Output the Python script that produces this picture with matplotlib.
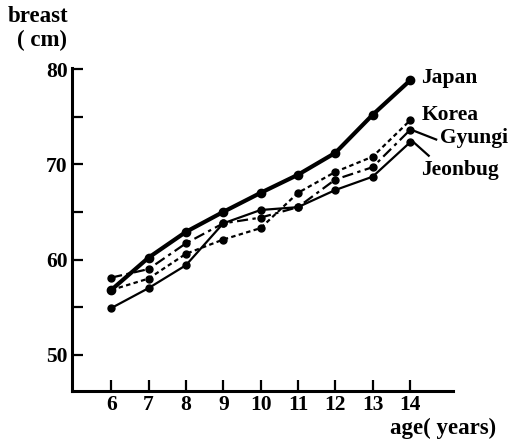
import numpy as np
import matplotlib
matplotlib.use("Agg")
import matplotlib.pyplot as plt

plt.rcParams['font.family'] = ['Liberation Serif', 'DejaVu Serif']

# ages and breast girth (cm)
ages = [6, 7, 8, 9, 10, 11, 12, 13, 14]
japan = [56.8, 60.2, 62.9, 65.0, 67.0, 68.9, 71.2, 75.2, 78.8]
korea = [56.8, 58.0, 60.6, 62.1, 63.3, 67.0, 69.2, 70.8, 74.6]
gyungi = [58.1, 59.0, 61.7, 63.8, 64.4, 65.5, 68.4, 69.7, 73.6]
jeonbug = [54.9, 57.0, 59.4, 63.8, 65.2, 65.5, 67.3, 68.7, 72.3]

fig = plt.figure(figsize=(5.08, 4.42), dpi=100)
ax = fig.add_axes([0.1417, 0.1154, 0.75, 0.7306])

ax.plot(ages, japan, 'k-', lw=3.0, marker='o', ms=6)
ax.plot(ages, korea, 'k', ls=(0, (2, 1.5)), lw=1.6, marker='o', ms=5)
ax.plot(ages, gyungi, 'k', ls=(0, (5, 2, 1.5, 2)), lw=1.6, marker='o', ms=5)
ax.plot(ages, jeonbug, 'k-', lw=1.6, marker='o', ms=5)

ax.set_xlim(4.95, 15.15)
ax.set_ylim(46.2, 80.1)

for s in ['top', 'right']:
    ax.spines[s].set_visible(False)
for s in ['left', 'bottom']:
    ax.spines[s].set_linewidth(2.2)

ax.set_xticks(ages)
ax.set_yticks([50, 60, 70, 80])
ax.set_yticks([55, 65, 75], minor=True)
ax.tick_params(axis='both', direction='in', length=8, width=1.6,
               labelsize=15.5, pad=3)
ax.tick_params(axis='y', which='minor', direction='in', length=8, width=1.6)
for lab in ax.get_xticklabels() + ax.get_yticklabels():
    lab.set_fontweight('bold')

txt = dict(fontsize=15.5, fontweight='bold', va='center', ha='left')
ax.text(14.3, 79.1, 'Japan', **txt)
ax.text(14.3, 75.2, 'Korea', **txt)
ax.text(14.8, 72.8, 'Gyungi', **txt)
ax.text(14.3, 69.4, 'Jeonbug', **txt)

# leader lines for Gyungi and Jeonbug
ax.plot([14.05, 14.7], [73.6, 72.6], 'k-', lw=1.6)
ax.plot([14.1, 14.5], [72.3, 70.9], 'k-', lw=1.6)

fig.text(38 / 508, 1 - 17 / 442, 'breast', fontsize=16.5, fontweight='bold',
         ha='center', va='center')
fig.text(42 / 508, 1 - 40 / 442, '( cm)', fontsize=16.5, fontweight='bold',
         ha='center', va='center')
fig.text(443 / 508, 1 - 428 / 442, 'age( years)', fontsize=16.5,
         fontweight='bold', ha='center', va='center')

fig.savefig('out.png', dpi=100)
